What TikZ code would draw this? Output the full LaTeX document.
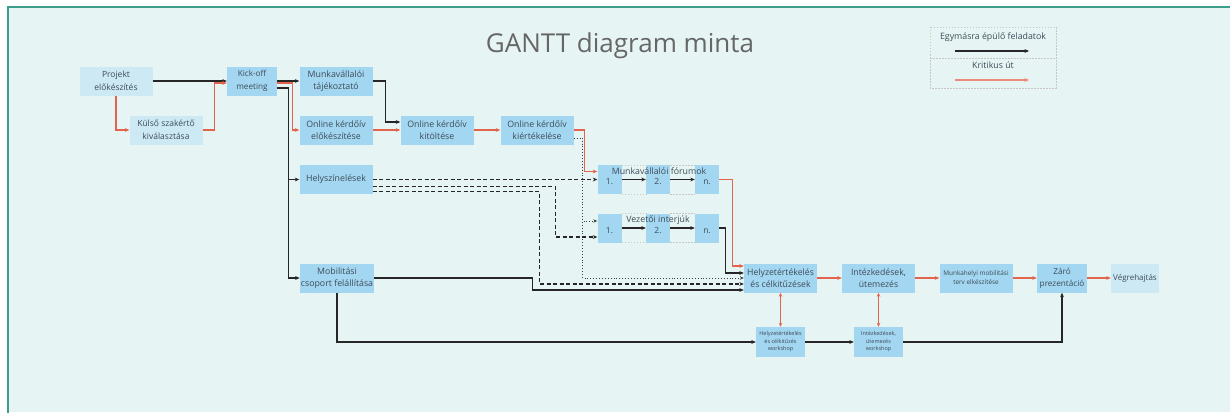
\documentclass[tikz,border=0pt]{standalone}
\usepackage{fontspec}
\setmainfont{Open Sans}
\usetikzlibrary{arrows.meta,calc}
\definecolor{bgc}{HTML}{E6F5F4}
\definecolor{framec}{HTML}{3E9E8C}
\definecolor{boxc}{HTML}{A3D6F1}
\definecolor{boxl}{HTML}{CDE9F4}
\definecolor{critred}{HTML}{E2644C}
\definecolor{legred}{HTML}{EE8A78}
\definecolor{txtc}{HTML}{3C4C58}
\begin{document}
\begin{tikzpicture}[x=1pt,y=-1pt,
  box/.style={fill=boxc, minimum width=73pt, minimum height=29pt, inner sep=1pt, align=center, font=\fontsize{8.8}{12.5}\selectfont, text=txtc},
  lbox/.style={box, fill=boxl},
  sbox/.style={box, minimum width=24pt, font=\fontsize{8.5}{11}\selectfont},
  wbox/.style={box, minimum width=49pt, minimum height=30pt, font=\fontsize{5.5}{7.5}\selectfont},
  lbl/.style={font=\fontsize{8.8}{11}\selectfont, text=txtc, inner sep=0pt},
  tip/.style={-{Stealth[length=4.5pt,width=3.8pt]}},
  arr/.style={draw=black!85, line width=1.1pt, tip},
  critarr/.style={draw=critred, color=critred, line width=1.1pt, tip},
  dasharr/.style={arr, dash pattern=on 4pt off 2.5pt},
  dotarr/.style={draw=black!75, line width=0.9pt, dotted, -{Stealth[length=4pt,width=3.4pt]}},
  grp/.style={draw=gray!45, line width=0.5pt, dash pattern=on 1.5pt off 1.5pt}
]
\useasboundingbox (0,0) rectangle (1230,412);
\fill[white] (0,0) rectangle (1230,412);
\fill[bgc] (8,7) rectangle (1230,412);
\draw[framec, line width=2.5pt] (1231,7) -- (8,7) -- (8,413);

% title
\node[font=\fontsize{26}{30}\selectfont, text=black!60] (title) at (620,46) {GANTT diagram minta};

% legend
\draw[grp] (930,27) rectangle (1056,88);
\draw[grp] (930,58) -- (1056,58);
\node[lbl] (leg1) at (993,37) {Egymásra épülő feladatok};
\coordinate (la1) at (955,51);
\coordinate (lb1) at (1029,51);
\draw[arr] (la1) -- (lb1);
\node[lbl] (leg2) at (993,65) {Kritikus út};
\coordinate (la2) at (955,80);
\coordinate (lb2) at (1029,80);
\draw[draw=legred, color=legred, line width=1.1pt, tip] (la2) -- (lb2);

% boxes
\node[lbox, font=\fontsize{8.5}{12.5}\selectfont] (proj) at (116,81) {Projekt\\előkészítés};
\node[lbox, font=\fontsize{8.5}{12.5}\selectfont] (kulso) at (166,130) {Külső szakértő\\kiválasztása};
\node[box, minimum width=50pt, font=\fontsize{8.2}{12.5}\selectfont] (kick) at (252,81) {Kick-off\\meeting};
\node[box] (tajek) at (336,81) {Munkavállalói\\tájékoztató};
\node[box] (okel) at (336,130) {Online kérdőív\\előkészítése};
\node[box] (hely) at (336,179.5) {Helyszínelések};
\node[box] (mob) at (337,278) {Mobilitási\\csoport felállítása};
\node[box] (okit) at (437,130) {Online kérdőív\\kitöltése};
\node[box] (okier) at (537,130) {Online kérdőív\\kiértékelése};

\node[sbox] (f1) at (609.5,179.5) {\mbox{}\\1.};
\node[sbox] (f2) at (658,179.5) {\mbox{}\\2.};
\node[sbox] (fn) at (707,179.5) {\mbox{}\\n.};
\node[sbox] (v1) at (609.5,228) {\mbox{}\\1.};
\node[sbox] (v2) at (658,228) {\mbox{}\\2.};
\node[sbox] (vn) at (707,228) {\mbox{}\\n.};
\draw[grp] (f1.north east) -- (f2.north west) (f2.north east) -- (fn.north west)
           (f1.south east) -- (f2.south west) (f2.south east) -- (fn.south west);
\draw[grp] (v1.north east) -- (v2.north west) (v2.north east) -- (vn.north west)
           (v1.south east) -- (v2.south west) (v2.south east) -- (vn.south west);

\node[box, font=\fontsize{8.7}{12}\selectfont] (helyz) at (780.5,278) {Helyzetértékelés\\és célkitűzések};
\node[box, font=\fontsize{8.7}{12}\selectfont] (intez) at (878.5,278) {Intézkedések,\\ütemezés};
\node[box, font=\fontsize{6.4}{9}\selectfont] (munk) at (976,278) {Munkahelyi mobilitási\\terv elkészítése};
\node[box, minimum width=50pt, font=\fontsize{8.2}{12}\selectfont] (zaro) at (1062,278) {Záró\\prezentáció};
\node[lbox, minimum width=48pt, font=\fontsize{8}{12}\selectfont] (vegre) at (1135,278) {Végrehajtás};
\node[wbox] (w1) at (780.5,342) {Helyzetértékelés\\és célkitűzés\\workshop};
\node[wbox] (w2) at (878.5,342) {Intézkedések,\\ütemezés\\workshop};

% connectors - first stage
\draw[arr] (proj.east) -- (kick.west);
\draw[critarr] (proj.south) |- (kulso.west);
\draw[critarr] (kulso.east) -- ++(12,0) |- ([yshift=-2pt]kick.west);
\draw[arr] (kick.east) -- (tajek.west);
\draw[critarr] ([yshift=-2pt]kick.east) -- ++(15,0) |- (okel.west);
\draw[arr] ([yshift=-7pt]kick.east) -- ++(11,0) |- (hely.west);
\draw[arr] ([yshift=-7pt]kick.east) -- ++(11,0) |- (mob.west);
\draw[arr] (tajek.east) -- ++(13,0) |- ([yshift=8pt]okit.west);
\draw[critarr] (okel.east) -- (okit.west);
\draw[critarr] (okit.east) -- (okier.west);
\draw[critarr] (okier.east) -- ++(11,0) |- ([yshift=8pt]f1.west);
\draw[dotarr] ([yshift=-8pt]okier.east) -- ++(9,0) |- ([yshift=7pt]v1.west);
\draw[dotarr] ([yshift=-8pt]okier.east) -- ++(9,0) |- (helyz.west);

% Helyszínelések
\draw[dasharr] (hely.east) -- (f1.west);
\draw[dasharr] ([yshift=-7pt]hely.east) -- ++(183,0) |- ([yshift=-9pt]v1.west);
\draw[dasharr] ([yshift=-12pt]hely.east) -- ++(167,0) |- ([yshift=-6pt]helyz.west);

% groups
\draw[arr] (f1.east) -- (f2.west);
\draw[arr] (f2.east) -- (fn.west);
\draw[arr] (v1.east) -- (v2.west);
\draw[arr] (v2.east) -- (vn.west);
\node[lbl] (flab) at (659,171) {Munkavállalói fórumok};
\node[lbl] (vlab) at (658,220) {Vezetői interjúk};
\draw[critarr] (fn.east) -- ++(13,0) |- ([yshift=12pt]helyz.west);
\draw[arr] (vn.east) -- ++(6,0) |- ([yshift=5pt]helyz.west);

% mobilitási
\draw[arr] (mob.east) -- ++(158,0) |- ([yshift=-12pt]helyz.west);
\draw[arr] (mob.south) |- (w1.west);
\draw[arr] (w1.east) -- (w2.west);
\draw[arr] (w2.east) -| (zaro.south);

% critical path end
\draw[critarr] (helyz.east) -- (intez.west);
\draw[critarr] (intez.east) -- (munk.west);
\draw[critarr] (munk.east) -- (zaro.west);
\draw[critarr] (zaro.east) -- (vegre.west);
\draw[critarr, {Stealth[length=4pt,width=3.4pt]}-{Stealth[length=4pt,width=3.4pt]}] (helyz.south) -- (w1.north);
\draw[critarr, {Stealth[length=4pt,width=3.4pt]}-{Stealth[length=4pt,width=3.4pt]}] (intez.south) -- (w2.north);
\end{tikzpicture}
\end{document}
